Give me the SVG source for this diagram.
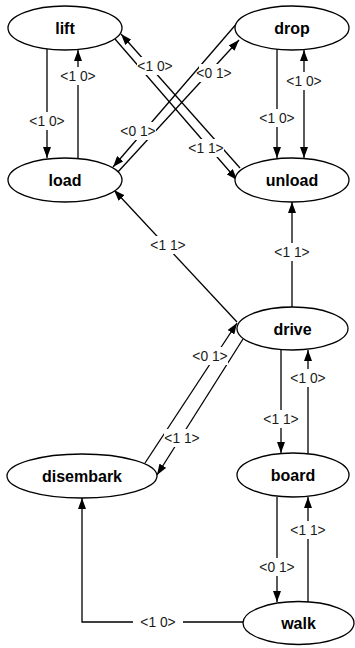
<svg xmlns="http://www.w3.org/2000/svg" width="355" height="648" viewBox="0 0 355 648">
  <style>
    .edge { fill: none; stroke: #000; stroke-width: 1.3; }
    .node ellipse { fill: #fff; stroke: #000; stroke-width: 1.3; }
    .node text { font-family: "Liberation Sans", Arial, sans-serif; font-size: 16px; font-weight: bold; fill: #000; text-anchor: middle; }
    .lbl rect { fill: #fff; }
    .lbl text { font-family: "Liberation Sans", Arial, sans-serif; font-size: 13.8px; fill: #1a1a1a; text-anchor: middle; }
  </style>
  <defs>
    <marker id="arrow" viewBox="0 0 11 8" refX="11" refY="4" markerWidth="11" markerHeight="8" markerUnits="userSpaceOnUse" orient="auto-start-reverse">
      <path d="M0,0 L11,4 L0,8 z" fill="#000"/>
    </marker>
  </defs>

  <!-- connectors -->
  <g id="connectors">
    <line id="e-lift-load" class="edge" x1="47" y1="49" x2="47" y2="158" marker-end="url(#arrow)"/>
    <line id="e-load-lift" class="edge" x1="78" y1="158" x2="78" y2="50" marker-end="url(#arrow)"/>
    <line id="e-drop-unload" class="edge" x1="277" y1="49" x2="277" y2="158" marker-end="url(#arrow)"/>
    <line id="e-unload-drop" class="edge" x1="304" y1="50" x2="304" y2="158" marker-start="url(#arrow)" marker-end="url(#arrow)"/>
    <line id="e-lift-unload" class="edge" x1="115" y1="39" x2="237" y2="180" marker-end="url(#arrow)"/>
    <line id="e-unload-lift" class="edge" x1="240" y1="168" x2="121" y2="34" marker-end="url(#arrow)"/>
    <line id="e-drop-load" class="edge" x1="238" y1="22" x2="113" y2="167" marker-end="url(#arrow)"/>
    <line id="e-load-drop" class="edge" x1="117" y1="173" x2="239" y2="40" marker-end="url(#arrow)"/>
    <line id="e-drive-load" class="edge" x1="237" y1="322" x2="114" y2="190" marker-end="url(#arrow)"/>
    <line id="e-drive-unload" class="edge" x1="292" y1="307" x2="292" y2="202" marker-end="url(#arrow)"/>
    <line id="e-disembark-drive" class="edge" x1="145" y1="463" x2="237" y2="323" marker-end="url(#arrow)"/>
    <line id="e-drive-disembark" class="edge" x1="243" y1="339" x2="157" y2="475" marker-end="url(#arrow)"/>
    <line id="e-drive-board" class="edge" x1="281" y1="350" x2="281" y2="453" marker-end="url(#arrow)"/>
    <line id="e-board-drive" class="edge" x1="308" y1="454" x2="308" y2="350" marker-end="url(#arrow)"/>
    <line id="e-board-walk" class="edge" x1="277" y1="497" x2="277" y2="602" marker-end="url(#arrow)"/>
    <line id="e-walk-board" class="edge" x1="308" y1="603" x2="308" y2="497" marker-end="url(#arrow)"/>
    <polyline id="e-walk-disembark" class="edge" points="243,622 82,622 82,498" marker-end="url(#arrow)"/>

    <!-- connector labels -->
    <g class="lbl"><rect x="29" y="112" width="36" height="18"/><text x="47" y="126">&lt;1 0&gt;</text></g>
    <g class="lbl"><rect x="60" y="67" width="36" height="18"/><text x="78" y="81">&lt;1 0&gt;</text></g>
    <g class="lbl"><rect x="259" y="109" width="36" height="18"/><text x="277" y="123">&lt;1 0&gt;</text></g>
    <g class="lbl"><rect x="286" y="72" width="36" height="18"/><text x="304" y="86">&lt;1 0&gt;</text></g>
    <g class="lbl"><rect x="137" y="57" width="36" height="18"/><text x="155" y="71">&lt;1 0&gt;</text></g>
    <g class="lbl"><rect x="188" y="139" width="36" height="18"/><text x="206" y="153">&lt;1 1&gt;</text></g>
    <g class="lbl"><rect x="120" y="122" width="36" height="18"/><text x="138" y="136">&lt;0 1&gt;</text></g>
    <g class="lbl"><rect x="199" y="64" width="34" height="18"/><text x="214" y="78">&lt;0 1&gt;</text></g>
    <g class="lbl"><rect x="150" y="236" width="36" height="18"/><text x="168" y="250">&lt;1 1&gt;</text></g>
    <g class="lbl"><rect x="274" y="243" width="36" height="18"/><text x="292" y="257">&lt;1 1&gt;</text></g>
    <g class="lbl"><rect x="192" y="347" width="36" height="18"/><text x="210" y="361">&lt;0 1&gt;</text></g>
    <g class="lbl"><rect x="164" y="429" width="36" height="18"/><text x="182" y="443">&lt;1 1&gt;</text></g>
    <g class="lbl"><rect x="263" y="410" width="36" height="18"/><text x="281" y="424">&lt;1 1&gt;</text></g>
    <g class="lbl"><rect x="290" y="369" width="36" height="18"/><text x="308" y="383">&lt;1 0&gt;</text></g>
    <g class="lbl"><rect x="259" y="558" width="36" height="18"/><text x="277" y="572">&lt;0 1&gt;</text></g>
    <g class="lbl"><rect x="290" y="521" width="36" height="18"/><text x="308" y="535">&lt;1 1&gt;</text></g>
    <g class="lbl"><rect x="133" y="613" width="50" height="18"/><text x="158" y="627">&lt;1 0&gt;</text></g>
  </g>

  <!-- nodes -->
  <g id="lift" class="node"><ellipse cx="65" cy="28" rx="57" ry="22"/><text x="65" y="34">lift</text></g>
  <g id="drop" class="node"><ellipse cx="292" cy="28" rx="57" ry="22"/><text x="292" y="34">drop</text></g>
  <g id="load" class="node"><ellipse cx="65" cy="180" rx="57" ry="22"/><text x="65" y="186">load</text></g>
  <g id="unload" class="node"><ellipse cx="292" cy="180" rx="57" ry="22"/><text x="292" y="186">unload</text></g>
  <g id="drive" class="node"><ellipse cx="292.5" cy="328.5" rx="55.5" ry="21.5"/><text x="292.5" y="334.5">drive</text></g>
  <g id="disembark" class="node"><ellipse cx="82" cy="476" rx="75" ry="22"/><text x="82" y="482">disembark</text></g>
  <g id="board" class="node"><ellipse cx="293" cy="475" rx="56" ry="22"/><text x="293" y="481">board</text></g>
  <g id="walk" class="node"><ellipse cx="298.5" cy="623" rx="55.5" ry="21.5"/><text x="298.5" y="629">walk</text></g>
</svg>
